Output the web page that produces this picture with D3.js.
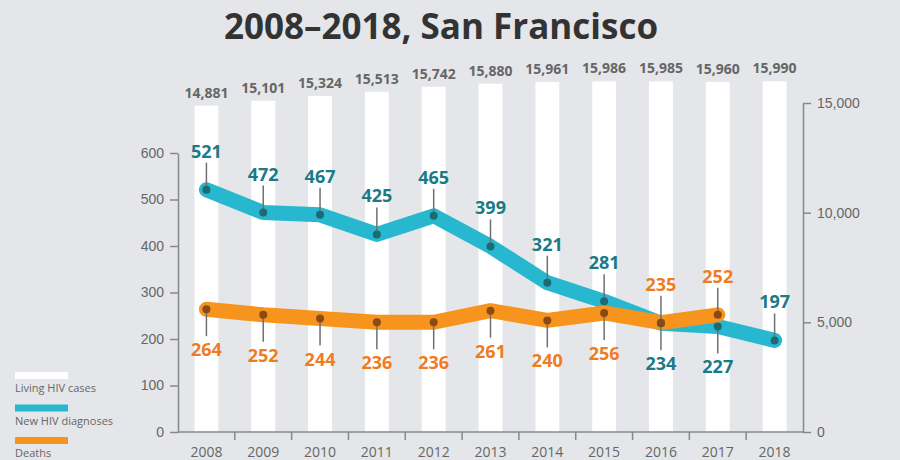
<!doctype html>
<html>
<head>
<meta charset="utf-8">
<script src="https://cdnjs.cloudflare.com/ajax/libs/d3/7.8.5/d3.min.js"></script>
<style>
  body { margin: 0; background: #e4e6e9; }
  svg { display: block; font-family: "Open Sans", "Noto Sans", sans-serif; }
  .axis text { fill: #666; font-size: 14px; }
  .axis line, .axis path { stroke: #888; stroke-width: 1.5; }
</style>
</head>
<body>
<svg id="chart" width="900" height="460"></svg>
<script>
// data
var years = [2008, 2009, 2010, 2011, 2012, 2013, 2014, 2015, 2016, 2017, 2018];
var living = [14881, 15101, 15324, 15513, 15742, 15880, 15961, 15986, 15985, 15960, 15990];
var newDiag = [521, 472, 467, 425, 465, 399, 321, 281, 234, 227, 197];
var deaths = [264, 252, 244, 236, 236, 261, 240, 256, 235, 252];
// label side: true = above the dot
var newAbove = [true, true, true, true, true, true, true, true, false, false, true];
var deathAbove = [false, false, false, false, false, false, false, false, true, true];
var leftTicks = [0, 100, 200, 300, 400, 500, 600];
var rightTicks = [0, 5000, 10000, 15000];

var svg = d3.select("#chart");
var fmt = d3.format(",");

var x = d3.scaleBand().domain(years).range([178, 803]).paddingInner(0.58).paddingOuter(0.29);
var yL = d3.scaleLinear().domain([0, 600]).range([432, 153]);
var yR = d3.scaleLinear().domain([0, 15000]).range([432, 103]);
var cx = function (i) { return x(years[i]) + x.bandwidth() / 2; };

// title
svg.append("text")
  .attr("x", 441).attr("y", 39)
  .attr("text-anchor", "middle")
  .style("font-size", "35px").style("font-weight", 700).style("fill", "#333")
  .text("2008\u20132018, San Francisco");

// white bars: living HIV cases
svg.selectAll("rect.bar")
  .data(living)
  .enter().append("rect")
    .attr("class", "bar")
    .attr("x", (d, i) => x(years[i]))
    .attr("width", x.bandwidth())
    .attr("y", d => yR(d))
    .attr("height", d => yR(0) - yR(d))
    .style("fill", "#fff");

svg.selectAll("text.bar")
  .data(living)
  .enter().append("text")
    .attr("class", "bar")
    .attr("x", (d, i) => cx(i))
    .attr("y", d => yR(d) - 8)
    .attr("text-anchor", "middle")
    .style("font-size", "14px").style("font-weight", 700).style("fill", "#666")
    .text(d => fmt(d));

// axes
var left = svg.append("g").attr("class", "axis")
  .attr("transform", "translate(178,0)")
  .call(d3.axisLeft(yL).tickValues(leftTicks).tickSize(8).tickSizeOuter(0).tickPadding(6));
var right = svg.append("g").attr("class", "axis")
  .attr("transform", "translate(803,0)")
  .call(d3.axisRight(yR).tickValues(rightTicks).tickSize(8).tickSizeOuter(0).tickPadding(6).tickFormat(fmt));

// bottom axis: ticks at band edges, labels at centres
var bottom = svg.append("g").attr("class", "axis");
bottom.append("line")
  .attr("x1", 178).attr("x2", 803).attr("y1", 432).attr("y2", 432);
bottom.selectAll("line.tick")
  .data(years.slice(1))
  .enter().append("line")
    .attr("class", "tick")
    .attr("x1", d => x(d) - x.step() * 0.29).attr("x2", d => x(d) - x.step() * 0.29)
    .attr("y1", 432).attr("y2", 440);
bottom.selectAll("text")
  .data(years)
  .enter().append("text")
    .attr("x", (d, i) => cx(i))
    .attr("y", 457)
    .attr("text-anchor", "middle")
    .text(d => d);

// lines
var line = d3.line().x((d, i) => cx(i)).y(d => yL(d));
svg.append("path")
  .attr("d", line(newDiag))
  .attr("fill", "none").attr("stroke", "#27b8cf").attr("stroke-width", 15)
  .attr("stroke-linecap", "round").attr("stroke-linejoin", "round");
svg.append("path")
  .attr("d", line(deaths))
  .attr("fill", "none").attr("stroke", "#f7941d").attr("stroke-width", 15)
  .attr("stroke-linecap", "round").attr("stroke-linejoin", "round");

function callouts(vals, above, dotColor, textColor) {
  var g = svg.append("g");
  g.selectAll("line")
    .data(vals)
    .enter().append("line")
      .attr("x1", (d, i) => cx(i)).attr("x2", (d, i) => cx(i))
      .attr("y1", d => yL(d))
      .attr("y2", (d, i) => yL(d) + (above[i] ? -27 : 27))
      .style("stroke", "#6f6f6f").style("stroke-width", 1.5);
  g.selectAll("circle")
    .data(vals)
    .enter().append("circle")
      .attr("cx", (d, i) => cx(i))
      .attr("cy", d => yL(d))
      .attr("r", 4)
      .style("fill", dotColor);
  g.selectAll("text")
    .data(vals)
    .enter().append("text")
      .attr("x", (d, i) => cx(i))
      .attr("y", (d, i) => yL(d) + (above[i] ? -32 : 47))
      .attr("text-anchor", "middle")
      .style("font-size", "18px").style("font-weight", 700).style("fill", textColor)
      .text(d => d);
}
callouts(newDiag, newAbove, "#1d6a73", "#1b7a85");
callouts(deaths, deathAbove, "#8a4a14", "#f07b22");

// legend
var legend = [
  { name: "Living HIV cases", color: "#fff" },
  { name: "New HIV diagnoses", color: "#27b8cf" },
  { name: "Deaths", color: "#f7941d" }
];
var lg = svg.selectAll("g.legend")
  .data(legend)
  .enter().append("g")
    .attr("class", "legend")
    .attr("transform", (d, i) => "translate(15," + (372 + i * 32.5) + ")");
lg.append("rect").attr("width", 53).attr("height", 7).style("fill", d => d.color);
lg.append("text").attr("y", 20)
  .style("font-size", "11px").style("fill", "#666")
  .text(d => d.name);
</script>
</body>
</html>
